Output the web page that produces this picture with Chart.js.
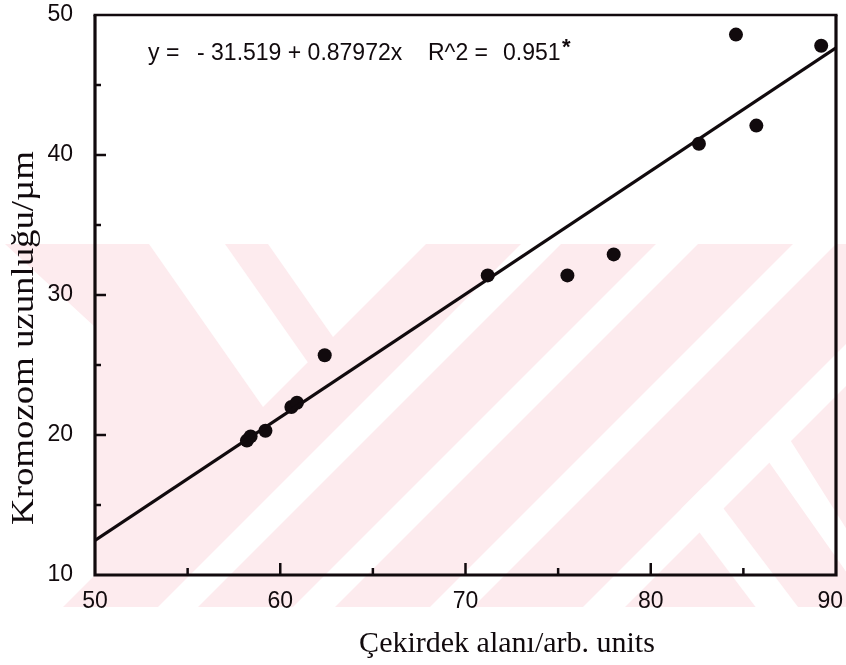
<!DOCTYPE html>
<html>
<head>
<meta charset="utf-8">
<style>
html,body{margin:0;padding:0;background:#fff;}
#wrap{width:846px;height:665px;}
</style>
<script src="https://cdn.jsdelivr.net/npm/chart.js@4.4.1/dist/chart.umd.min.js"></script>
</head>
<body>
<div id="wrap"><canvas id="c" width="846" height="665"></canvas></div>
<script>
// ---- data ----
const coreArea     = [58.2, 58.4, 59.2, 60.6, 60.9, 62.4, 71.2, 75.5, 78.0, 82.6, 84.6, 85.7, 89.2];
const chromLength  = [19.6, 19.9, 20.3, 22.0, 22.3, 25.7, 31.4, 31.4, 32.9, 40.8, 48.6, 42.1, 47.8];
const fitIntercept = -31.519;
const fitSlope     = 0.87972;
const fitR2        = 0.951;
const fitRange     = [50, 90];
const xTickValues  = [50, 60, 70, 80, 90];
const yTickValues  = [10, 20, 30, 40, 50];
const xMinorTicks  = [55, 65, 75, 85];
const yMinorTicks  = [15, 25, 35, 45];
const xTitle = 'Çekirdek alanı/arb. units';
const yTitle = 'Kromozom uzunluğu/µm';

const points = coreArea.map((x, i) => ({x: x, y: chromLength[i]}));
const fitLine = fitRange.map(x => ({x: x, y: fitIntercept + fitSlope * x}));

const INK = '#110a0d';
const SANS = '"Liberation Sans", Arial, Helvetica, sans-serif';
const SERIF = '"Liberation Serif", "Times New Roman", serif';

// background watermark (decoration only)
const watermark = {
  id: 'watermark',
  beforeDraw(chart) {
    const ctx = chart.ctx;
    const W = chart.width;
    const y0 = 244, y1 = 607;
    ctx.save();
    ctx.fillStyle = '#ffffff';
    ctx.fillRect(0, 0, W, chart.height);
    ctx.beginPath();
    ctx.rect(0, y0, W, y1 - y0);
    ctx.clip();
    ctx.fillStyle = '#fdebee';
    ctx.fillRect(0, y0, W, y1 - y0);
    ctx.fillStyle = '#ffffff';
    const poly = pts => {
      ctx.beginPath();
      ctx.moveTo(pts[0][0], pts[0][1]);
      for (let i = 1; i < pts.length; i++) ctx.lineTo(pts[i][0], pts[i][1]);
      ctx.closePath();
      ctx.fill();
    };
    const slash = (c0, c1) => poly([[c0 - y0, y0], [c1 - y0, y0], [c1 - y1, y1], [c0 - y1, y1]]);
    // white area behind the y-axis title
    poly([[-10, y0], [5, y0], [95, 327], [95, 575], [63, y1], [-10, y1]]);
    // left "\" stripe
    poly([[149, y0], [225, y0], [307.8, 362.2], [263, 407]]);
    // wedge
    poly([[268, y0], [426, y0], [333, 337]]);
    // "/" stripes
    slash(765, 805);
    slash(900, 942);
    slash(1037, 1080);
    slash(1190, 1232);
    // "\" arms on the right
    poly([[681.4, 508.6], [705.4, 484.6], [798, y1], [755.6, y1]]);
    poly([[752, 438], [775, 416], [W + 20, 560], [W + 20, 600]]);
    ctx.restore();
  }
};

// frame, inward ticks, titles, equation
const decorations = {
  id: 'decorations',
  afterDraw(chart) {
    const ctx = chart.ctx;
    const a = chart.chartArea;
    const xs = chart.scales.x, ys = chart.scales.y;
    ctx.save();
    ctx.strokeStyle = INK;
    ctx.lineCap = 'butt';
    // frame
    ctx.lineWidth = 3.2;
    ctx.beginPath();
    ctx.moveTo(a.left, a.top); ctx.lineTo(a.left, a.bottom); ctx.lineTo(a.right, a.bottom); ctx.lineTo(a.right, a.top);
    ctx.stroke();
    ctx.lineWidth = 2.5;
    ctx.beginPath(); ctx.moveTo(a.left - 1.5, a.top); ctx.lineTo(a.right + 1.5, a.top); ctx.stroke();
    // inward ticks
    ctx.lineWidth = 2.5;
    const xt = (vals, len) => vals.forEach(v => {
      const px = xs.getPixelForValue(v);
      ctx.beginPath(); ctx.moveTo(px, a.bottom); ctx.lineTo(px, a.bottom - len); ctx.stroke();
    });
    const yt = (vals, len) => vals.forEach(v => {
      const py = ys.getPixelForValue(v);
      ctx.beginPath(); ctx.moveTo(a.left, py); ctx.lineTo(a.left + len, py); ctx.stroke();
    });
    xt(xTickValues.filter(v => v > xs.min && v < xs.max), 12);
    xt(xMinorTicks, 7);
    yt(yTickValues.filter(v => v > ys.min && v < ys.max), 11);
    yt(yMinorTicks, 6);

    ctx.fillStyle = INK;
    // x title
    ctx.font = '30px ' + SERIF;
    ctx.textAlign = 'center';
    ctx.textBaseline = 'alphabetic';
    ctx.fillText(xTitle, 507, 652);
    // y title
    ctx.save();
    ctx.translate(33, 338);
    ctx.rotate(-Math.PI / 2);
    ctx.scale(1.15, 1);
    ctx.font = '32px ' + SERIF;
    ctx.textAlign = 'center';
    ctx.fillText(yTitle, 0, 0);
    ctx.restore();
    // regression equation
    ctx.font = '23px ' + SANS;
    ctx.textAlign = 'left';
    ctx.fillText('y =', 148, 60);
    ctx.fillText('- ' + Math.abs(fitIntercept).toFixed(3) + ' + ' + fitSlope.toFixed(5) + 'x', 197, 60);
    ctx.fillText('R^2 =', 428, 60);
    ctx.fillText(fitR2.toFixed(3), 503, 60);
    ctx.font = 'bold 22px ' + SANS;
    ctx.fillText('*', 562, 54);
    ctx.restore();
  }
};

new Chart(document.getElementById('c'), {
  type: 'scatter',
  data: {
    datasets: [
      {
        type: 'line',
        data: fitLine,
        borderColor: INK,
        borderWidth: 3.2,
        pointRadius: 0,
        fill: false,
        tension: 0
      },
      {
        type: 'scatter',
        data: points,
        backgroundColor: INK,
        borderColor: INK,
        borderWidth: 0,
        pointRadius: 7,
        pointHoverRadius: 7
      }
    ]
  },
  options: {
    responsive: false,
    devicePixelRatio: 1,
    animation: false,
    events: [],
    layout: {padding: {top: 15, right: 10, bottom: 0, left: 0}},
    plugins: {legend: {display: false}, tooltip: {enabled: false}},
    scales: {
      x: {
        type: 'linear',
        min: fitRange[0], max: fitRange[1],
        afterBuildTicks: s => { s.ticks = xTickValues.map(v => ({value: v})); },
        afterFit: s => { s.height = 90; s.paddingLeft = 0; s.paddingRight = 0; },
        grid: {display: false, drawTicks: false},
        border: {display: false},
        ticks: {
          color: INK, font: {family: SANS, size: 23}, padding: 13, maxRotation: 0, autoSkip: false,
          callback: v => (v === fitRange[1] ? String(v) + '\u2002' : String(v))
        }
      },
      y: {
        type: 'linear',
        min: 10, max: 50,
        afterBuildTicks: s => { s.ticks = yTickValues.map(v => ({value: v})); },
        afterFit: s => { s.width = 95; s.paddingTop = 0; s.paddingBottom = 0; },
        grid: {display: false, drawTicks: false},
        border: {display: false},
        ticks: {color: INK, font: {family: SANS, size: 23}, padding: 22, autoSkip: false}
      }
    }
  },
  plugins: [watermark, decorations]
});
</script>
</body>
</html>
